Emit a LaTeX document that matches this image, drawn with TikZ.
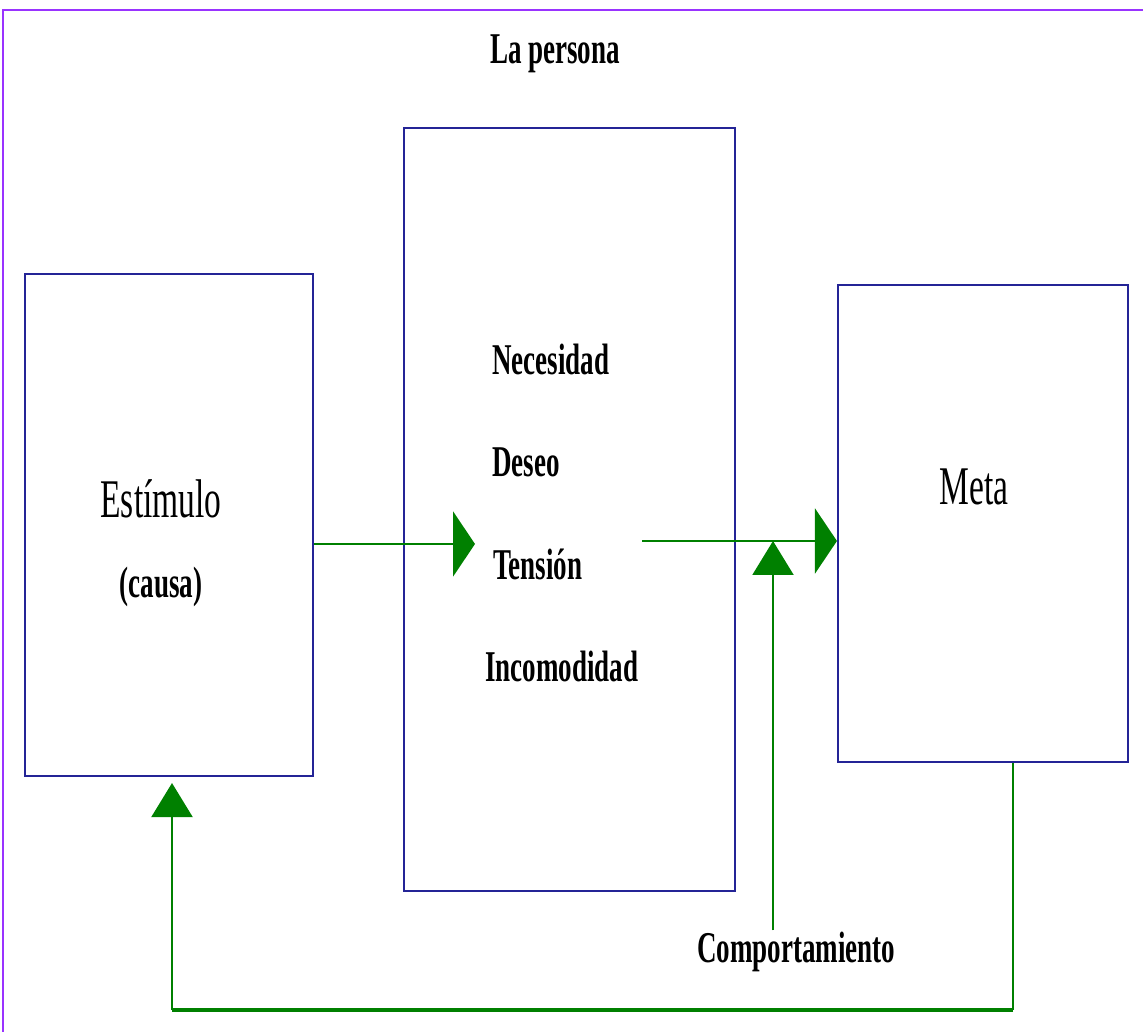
\documentclass[tikz,border=0pt]{standalone}
\usepackage{fontspec}
\setmainfont{Liberation Serif}[FakeStretch=0.615]
\usepackage{xcolor}
\definecolor{frameViolet}{RGB}{153,51,255}
\definecolor{boxNavy}{RGB}{36,36,150}
\definecolor{flowGreen}{RGB}{0,128,0}
\usepackage{tikz}
\usetikzlibrary{arrows.meta,positioning}

\begin{document}
\begin{tikzpicture}[
    boxNode/.style={draw=boxNavy, line width=1.2pt, minimum width=#1, inner sep=0pt},
    txtNode/.style={inner sep=1pt, font=\bfseries\fontsize{25}{30}\selectfont},
    bigTxt/.style={inner sep=1pt, font=\fontsize{31}{36}\selectfont},
    flowLine/.style={flowGreen, line width=1.6pt},
    wideTip/.style={-{Triangle[length=0.44cm, width=1.3cm]}},
    upTip/.style={-{Triangle[length=0.68cm, width=0.82cm]}}
  ]
  \useasboundingbox (0,0) rectangle (22.86,20.64);
  % frame round the whole person
  \draw[frameViolet, line width=1.6pt] (0.06,0) -- (0.06,20.44) -- (22.86,20.44);
  \node[txtNode, anchor=base] (persona) at (11.1,19.36) {La persona};

  % the three boxes
  \node[boxNode=5.76cm, minimum height=10.04cm] (estimulo) at (3.38,10.14) {};
  \node[boxNode=6.62cm, minimum height=15.26cm] (interno) at (11.39,10.45) {};
  \node[boxNode=5.8cm, minimum height=9.54cm] (meta) at (19.66,10.17) {};

  \node[bigTxt, anchor=base] (estTxt) at (3.22,10.28) {Estímulo};
  \node[txtNode, anchor=base] (causaTxt) at (3.22,8.68) {(causa)};
  \node[bigTxt, anchor=base] (metaTxt) at (19.48,10.54) {Meta};

  \node[txtNode, anchor=base west] (necesidad) at (9.8,13.14) {Necesidad};
  \node[txtNode, anchor=base west] (deseo) at (9.8,11.10) {Deseo};
  \node[txtNode, anchor=base west] (tension) at (9.82,9.04) {Tensión};
  \node[txtNode, anchor=base west] (incomodidad) at (9.66,7.0) {Incomodidad};
  \node[txtNode, anchor=base west] (comport) at (13.9,1.38) {Comportamiento};

  % flow arrows
  \coordinate (tensionIn) at (9.5,9.76);
  \coordinate (tensionOut) at (12.84,9.82);
  \coordinate (joinPt) at (15.46,9.82);
  \coordinate (loopRight) at (20.26,0.44);
  \coordinate (loopLeft) at (3.44,0.44);

  \draw[flowLine, wideTip] (estimulo.east |- tensionIn) -- (tensionIn);
  \draw[flowLine, wideTip] (tensionOut) -- (meta.west |- tensionOut);
  \draw[flowLine, line width=1.2pt, upTip] (comport.north -| joinPt) -- (joinPt);
  \draw[flowLine, line width=1.2pt] (meta.south -| loopRight) -- (loopRight);
  \draw[flowLine, line width=2pt] (loopRight) -- (loopLeft);
  \draw[flowLine, line width=1.2pt, upTip, shorten >=0.12cm] (loopLeft) -- (estimulo.south -| loopLeft);
\end{tikzpicture}
\end{document}
